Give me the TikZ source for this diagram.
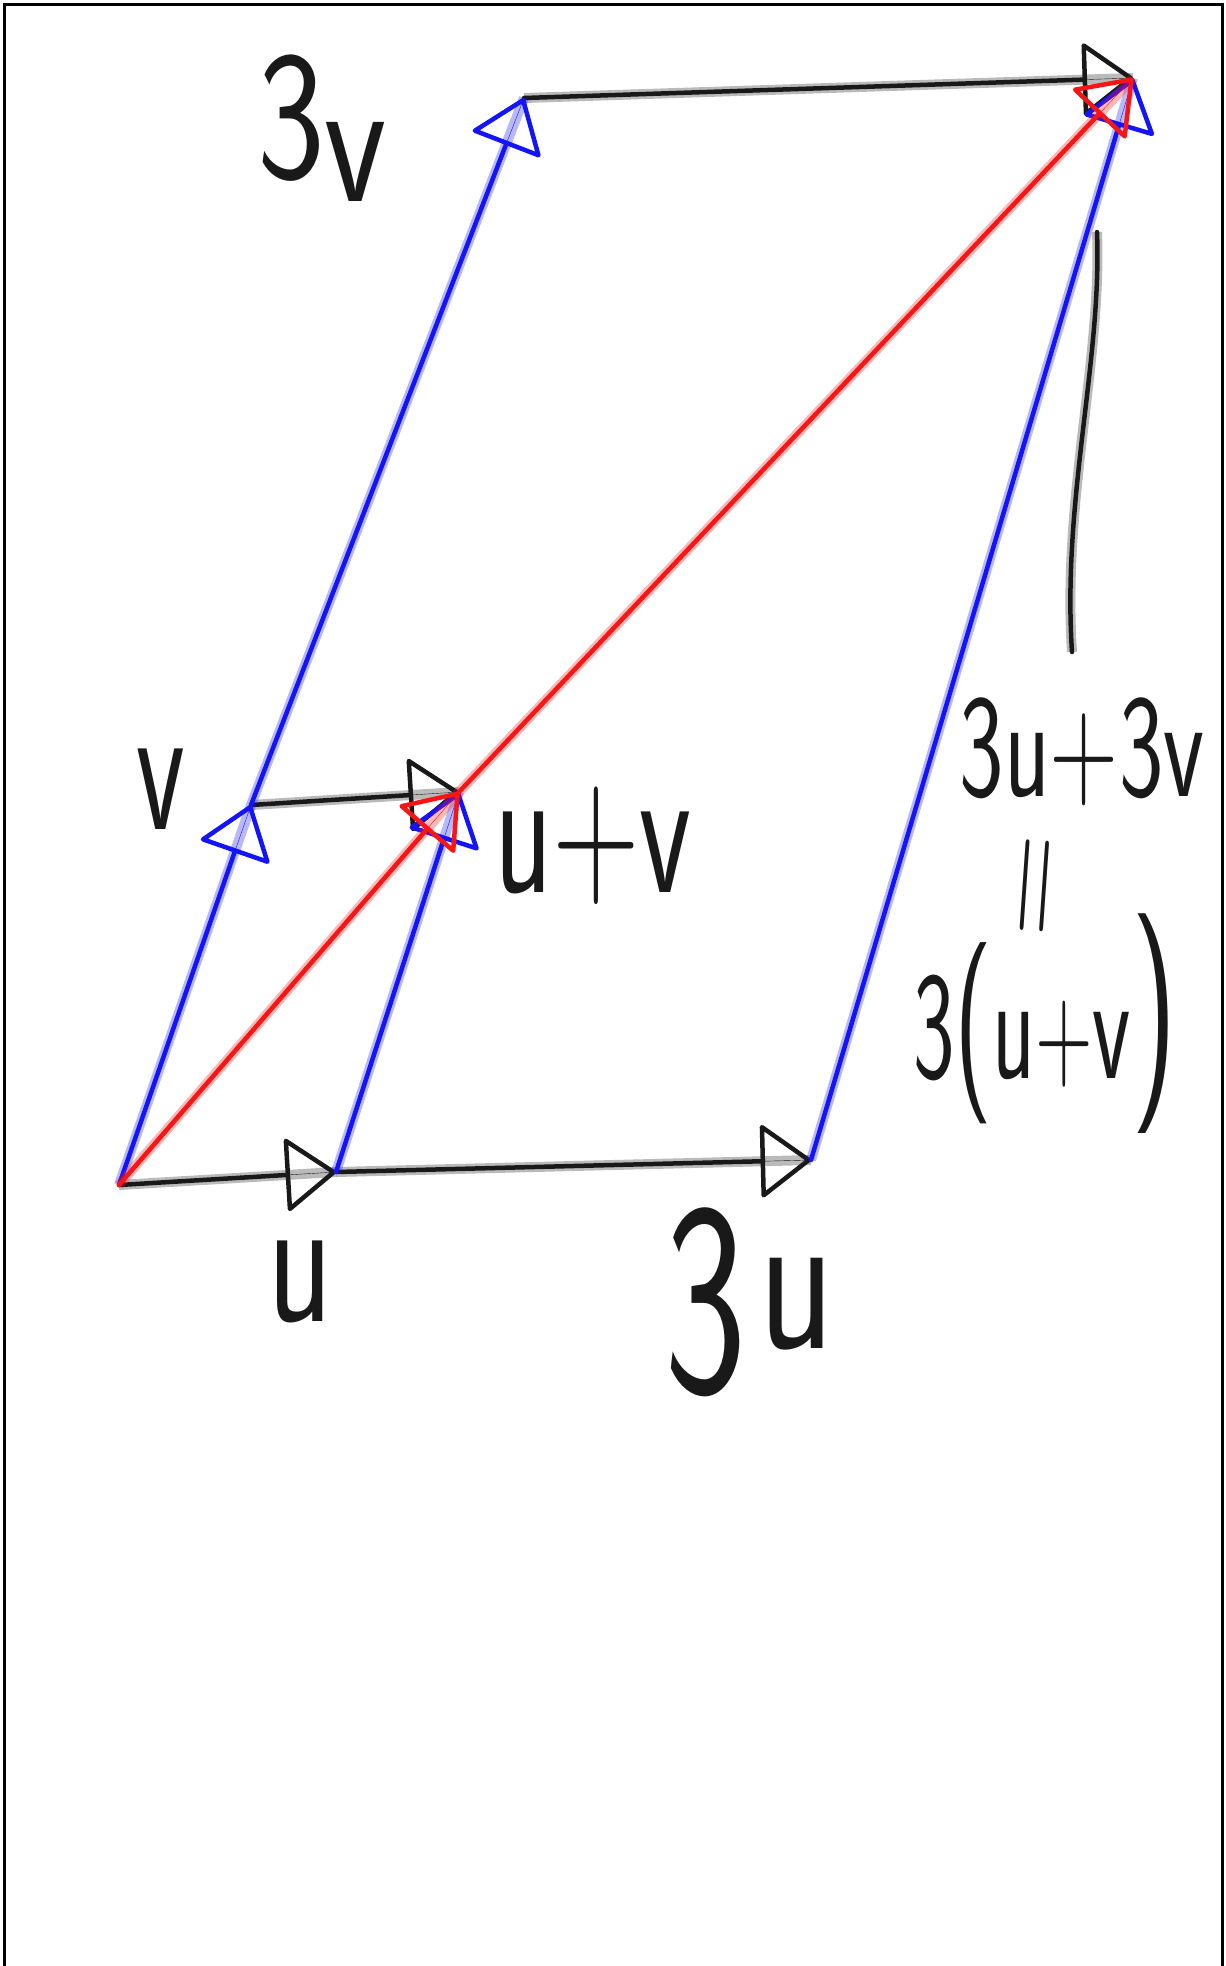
\documentclass[tikz,border=0pt]{standalone}
\usetikzlibrary{arrows.meta}
\definecolor{penblue}{RGB}{20,20,250}
\definecolor{penred}{RGB}{250,20,20}
\definecolor{penblack}{RGB}{25,25,25}
\newcommand{\fs}[1]{\fontsize{#1}{#1}\selectfont}
\begin{document}
\begin{tikzpicture}[x=1pt,y=-1pt,
  tipstyle/.style={-{Triangle[open,length=52,width=76,line width=4.5,round]}},
  vec/.style={line width=4.5, line cap=round, line join=round, draw=#1,
    preaction={draw=#1, line width=10, draw opacity=0.3, -},
    preaction={draw=#1, -},
    tipstyle},
  bvec/.style={vec=penblue},
  rvec/.style={vec=penred},
  kvec/.style={vec=penblack},
  lab/.style={font=\sffamily, text=penblack, inner sep=0pt},
  pen/.style={line width=4.5, line cap=round, draw=penblack,
    preaction={draw=penblack, line width=10, draw opacity=0.3}}
]
\useasboundingbox (0,0) rectangle (1226,1966);
\draw[line width=3] (4,1966) -- (4,4) -- (1222,4) -- (1222,1966);

% points
\coordinate (O)  at (119,1185);
\coordinate (U)  at (336,1172);
\coordinate (U3) at (811,1160);
\coordinate (V)  at (251,805);
\coordinate (UV) at (459,792);
\coordinate (V3) at (524,98);
\coordinate (W)  at (1133,78);

% black vectors
\draw[kvec] (O) -- (U);
\draw[kvec] (U) -- (U3);
\draw[kvec] (V) -- (UV);
\draw[kvec] (V3) -- (W);
% blue vectors
\draw[bvec] (O) -- (V);
\draw[bvec] (V) -- (V3);
\draw[bvec] (U) -- (UV);
\draw[bvec] (U3) -- (W);
% red vectors
\draw[rvec] (O) -- (UV);
\draw[rvec] (UV) -- (W);

% labels
\node[lab, anchor=base west] (l3v) at (257,178)
  {\scalebox{0.9}[1.15]{\fs{160}3\raisebox{-20pt}{v}}};
\node[lab] (lv)  at (161,789) {\scalebox{0.75}[1.25]{\fs{150}v}};
\node[lab] (luv) at (593,846) {\scalebox{0.8}[1.25]{\fs{150}u+v}};
\node[lab] (lu)  at (300,1282) {\scalebox{0.9}[1.25]{\fs{150}u}};
\node[lab, anchor=base west] (l3u) at (664,1392)
  {\scalebox{0.7}[1.1]{\fs{250}3}\hspace{12pt}\raisebox{44pt}{\scalebox{1.05}[1.4]{\fs{150}u}}};
\node[lab] (lsum) at (1082,752) {\scalebox{0.9}[1.4]{\fs{105}3u+3v}};
\node[lab] (leq) at (1043,886) {\rotatebox{86}{\scalebox{1.45}[1.1]{\fs{100}=}}};
\node[lab, anchor=base west] (lprod) at (913,1078)
  {\scalebox{0.63}[1.1]{\fs{140}3{\fs{165}(}u{\fs{125}+}v\smash{\fs{200})}}};

% pointer from the label to the tip
\coordinate (ptop) at (1097,232);
\coordinate (pbot) at (1072,652);
\draw[pen] (ptop) .. controls (1102,360) and (1062,500) .. (pbot);
\end{tikzpicture}
\end{document}
